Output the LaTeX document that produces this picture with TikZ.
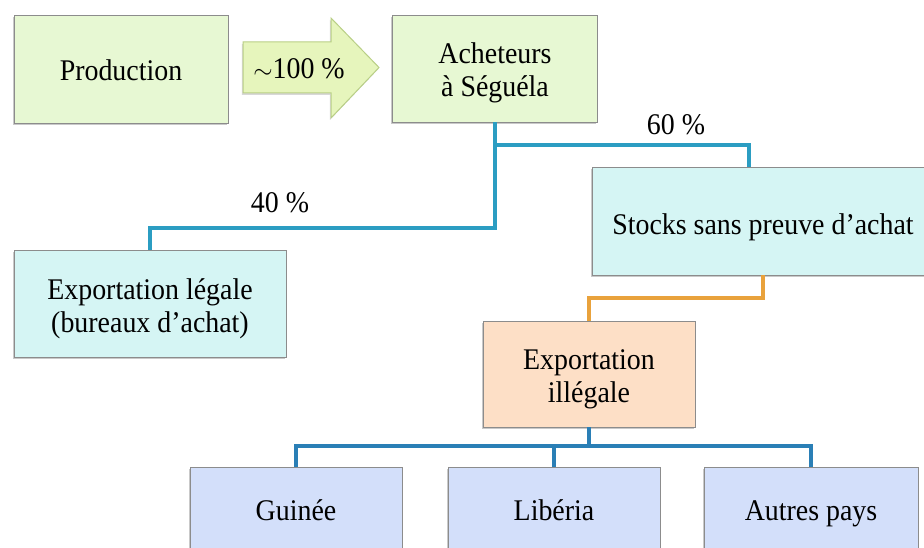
\documentclass[tikz,border=0pt]{standalone}
\usepackage{fontspec}
\setmainfont[FakeStretch=0.93]{Liberation Serif}
\usetikzlibrary{shadows}
\definecolor{grn}{HTML}{E7F8D3}
\definecolor{arrfill}{HTML}{E6F5BC}
\definecolor{arrline}{HTML}{B9CF86}
\definecolor{cyn}{HTML}{D5F5F4}
\definecolor{org}{HTML}{FDDFC6}
\definecolor{blu}{HTML}{D3DFFA}
\definecolor{tealline}{HTML}{2B9DC2}
\definecolor{blueline}{HTML}{2A7FB6}
\definecolor{orgline}{HTML}{E9A23C}
\definecolor{edge}{HTML}{8C8C8C}
\tikzset{
  boxbase/.style={draw=edge, line width=0.9pt, inner sep=0pt,
    drop shadow={shadow xshift=-1.2pt, shadow yshift=-2pt, opacity=0.35, fill=black!60}},
  greenbox/.style={boxbase, fill=grn},
  cyanbox/.style={boxbase, fill=cyn},
  orangebox/.style={boxbase, fill=org},
  bluebox/.style={boxbase, fill=blu},
  txt/.style={font=\fontsize{30}{33}\selectfont, inner sep=0pt, align=center},
  conn/.style={line width=4.5pt, line join=miter},
  lbl/.style={font=\fontsize{30}{33}\selectfont, inner sep=0pt}
}
\begin{document}
\begin{tikzpicture}[x=1pt,y=-1pt]
\useasboundingbox (0,0) rectangle (924,548);
\clip (0,0) rectangle (924,548);
\fill[white] (0,0) rectangle (924,548);
% boxes
\node[greenbox, minimum width=214pt, minimum height=108pt] (prod) at (121,69) {};
\node[greenbox, minimum width=205pt, minimum height=107pt] (ach) at (495,68.5) {};
\node[cyanbox, minimum width=342pt, minimum height=108pt] (stocks) at (763,221) {};
\node[cyanbox, minimum width=272pt, minimum height=107pt] (legal) at (150,303.5) {};
\node[orangebox, minimum width=212pt, minimum height=106pt] (illegal) at (589,374) {};
\node[bluebox, minimum width=212pt, minimum height=100pt] (guinee) at (296,517) {};
\node[bluebox, minimum width=212pt, minimum height=100pt] (liberia) at (554,517) {};
\node[bluebox, minimum width=214pt, minimum height=100pt] (autres) at (811,517) {};
% box texts
\node[txt] (prodT) at (121,70.5) {Production};
\node[txt] (achT) at (495,73) {Acheteurs\\à Séguéla};
\node[txt] (stocksT) at (763,227.5) {Stocks sans preuve d’achat};
\node[txt] (legalT) at (150,308.5) {Exportation légale\\(bureaux d’achat)};
\node[txt] (illegalT) at (589,379.5) {Exportation\\illégale};
\node[txt] (guineeT) at (296,510.5) {Guinée};
\node[txt] (liberiaT) at (554,510.5) {Libéria};
\node[txt] (autresT) at (811,513.5) {Autres pays};
% block arrow
\filldraw[fill=arrfill, draw=arrline, line width=1pt,
  drop shadow={shadow xshift=-1.2pt, shadow yshift=-2pt, opacity=0.25, fill=black!60}]
  (243,42) -- (331,42) -- (331,18) -- (379,67.5) -- (331,118) -- (331,93) -- (243,93) -- cycle;
\node[lbl] (pct100) at (299,69) {$\sim$100 \%};
% labels
\node[lbl] (pct40) at (280,203) {40 \%};
\node[lbl] (pct60) at (676,125) {60 \%};
% connectors
\coordinate (j0) at (495,145);
\coordinate (j1) at (495,228);
\coordinate (j60) at (749,145);
\coordinate (oj) at (763,298);
\coordinate (bus) at (589,446);
\draw[conn, tealline] (ach.south) -- (j1) -| (legal.north);
\draw[conn, tealline] (j0) -- (j60) -- (j60 |- stocks.north);
\draw[conn, orgline] (stocks.south) -- (oj) -| (illegal.north);
\draw[conn, blueline] (illegal.south) -- (bus);
\draw[conn, blueline] (guinee.north) -- (guinee.north |- bus) -- (autres.north |- bus) -- (autres.north);
\draw[conn, blueline] (liberia.north) -- (liberia.north |- bus);
\end{tikzpicture}
\end{document}
